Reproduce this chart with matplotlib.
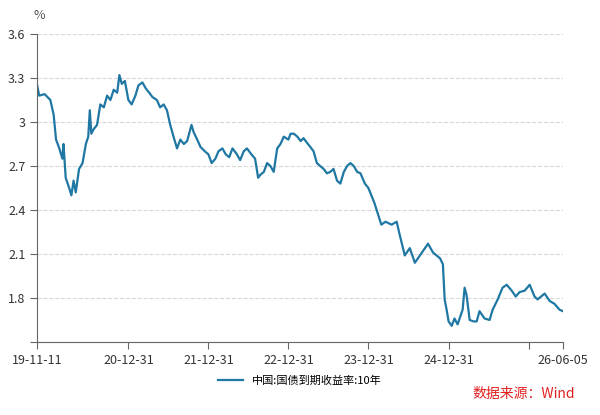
import numpy as np
import pandas as pd
import matplotlib.pyplot as plt
import matplotlib.dates as mdates

plt.rcParams['font.family'] = ['Noto Sans CJK SC', 'DejaVu Sans']

# 中国10年期国债到期收益率
dates = [
    '2019-11-11', '2019-11-20', '2019-12-15', '2020-01-10', '2020-01-25', '2020-02-05', '2020-02-20',
    '2020-03-05', '2020-03-10', '2020-03-20', '2020-04-05', '2020-04-15', '2020-04-25', '2020-05-05',
    '2020-05-20', '2020-06-05', '2020-06-20', '2020-07-01', '2020-07-08', '2020-07-15', '2020-07-25',
    '2020-08-10', '2020-08-25', '2020-09-10', '2020-09-25', '2020-10-10', '2020-10-25', '2020-11-10',
    '2020-11-20', '2020-12-01', '2020-12-15', '2020-12-31', '2021-01-15', '2021-02-01', '2021-02-15',
    '2021-03-05', '2021-03-20', '2021-04-05', '2021-04-20', '2021-05-10', '2021-05-25', '2021-06-10',
    '2021-06-25', '2021-07-10', '2021-07-25', '2021-08-10', '2021-08-25', '2021-09-10', '2021-09-25',
    '2021-10-15', '2021-10-25', '2021-11-10', '2021-11-25', '2021-12-15', '2021-12-31', '2022-01-15',
    '2022-02-01', '2022-02-15', '2022-03-05', '2022-03-20', '2022-04-05', '2022-04-20', '2022-05-10',
    '2022-05-25', '2022-06-10', '2022-06-25', '2022-07-15', '2022-08-01', '2022-08-15', '2022-08-25',
    '2022-09-10', '2022-09-25', '2022-10-10', '2022-10-25', '2022-11-10', '2022-11-25', '2022-12-10',
    '2022-12-31', '2023-01-10', '2023-01-25', '2023-02-10', '2023-02-25', '2023-03-10', '2023-03-25',
    '2023-04-10', '2023-04-25', '2023-05-10', '2023-05-25', '2023-06-10', '2023-06-25', '2023-07-10',
    '2023-07-25', '2023-08-10', '2023-08-25', '2023-09-10', '2023-09-25', '2023-10-10', '2023-10-25',
    '2023-11-10', '2023-11-25', '2023-12-15', '2023-12-31', '2024-01-27', '2024-02-28', '2024-03-18',
    '2024-04-15', '2024-05-08', '2024-05-22', '2024-06-14', '2024-07-07', '2024-07-30', '2024-09-28',
    '2024-10-21', '2024-11-22', '2024-12-05', '2024-12-13', '2024-12-22', '2024-12-31', '2025-01-14',
    '2025-01-27', '2025-02-10', '2025-03-05', '2025-03-14', '2025-03-23', '2025-04-06', '2025-04-24',
    '2025-05-08', '2025-05-21', '2025-06-13', '2025-07-06', '2025-07-20', '2025-08-12', '2025-09-03',
    '2025-09-22', '2025-10-15', '2025-11-02', '2025-11-20', '2025-12-13', '2026-01-05', '2026-01-27',
    '2026-02-10', '2026-03-14', '2026-04-06', '2026-04-28', '2026-05-21', '2026-06-05',
]
yields = [
    3.25, 3.18, 3.19, 3.15, 3.05, 2.88, 2.82,
    2.75, 2.85, 2.62, 2.55, 2.50, 2.60, 2.52,
    2.68, 2.72, 2.85, 2.90, 3.08, 2.92, 2.95,
    2.98, 3.12, 3.10, 3.18, 3.15, 3.22, 3.20,
    3.32, 3.26, 3.28, 3.15, 3.12, 3.18, 3.25,
    3.27, 3.23, 3.20, 3.17, 3.15, 3.10, 3.12,
    3.08, 2.98, 2.90, 2.82, 2.88, 2.85, 2.87,
    2.98, 2.93, 2.88, 2.83, 2.80, 2.78, 2.72,
    2.75, 2.80, 2.82, 2.78, 2.76, 2.82, 2.78,
    2.74, 2.80, 2.82, 2.78, 2.75, 2.62, 2.64,
    2.66, 2.72, 2.70, 2.66, 2.82, 2.85, 2.90,
    2.88, 2.92, 2.92, 2.90, 2.87, 2.89, 2.86,
    2.83, 2.80, 2.72, 2.70, 2.68, 2.65, 2.66,
    2.68, 2.60, 2.58, 2.66, 2.70, 2.72, 2.70,
    2.66, 2.65, 2.58, 2.55, 2.45, 2.30, 2.32,
    2.30, 2.32, 2.23, 2.09, 2.14, 2.04, 2.17,
    2.11, 2.07, 2.03, 1.79, 1.72, 1.64, 1.61,
    1.66, 1.62, 1.72, 1.87, 1.82, 1.65, 1.64,
    1.64, 1.71, 1.66, 1.65, 1.72, 1.79, 1.87,
    1.89, 1.85, 1.81, 1.84, 1.85, 1.89, 1.81,
    1.79, 1.83, 1.78, 1.76, 1.72, 1.71,
]
tick_dates = ['2019-11-11', '2020-12-31', '2021-12-31', '2022-12-31', '2023-12-31',
              '2024-12-31', '2025-12-31', '2026-06-05']
tick_labels = ['19-11-11', '20-12-31', '21-12-31', '22-12-31', '23-12-31', '24-12-31', '', '26-06-05']
y_ticks = [1.5, 1.8, 2.1, 2.4, 2.7, 3.0, 3.3, 3.6]
y_labels = ['', '1.8', '2.1', '2.4', '2.7', '3', '3.3', '3.6']

x = pd.to_datetime(dates)
fig = plt.figure(figsize=(6, 4.15), dpi=100)
ax = fig.add_axes([0.062, 0.176, 0.876, 0.742])
ax.plot(x, yields, color='#1f77a3', linewidth=1.6, label='中国:国债到期收益率:10年')

ax.set_xlim(pd.Timestamp(dates[0]), pd.Timestamp(dates[-1]))
ax.set_ylim(1.5, 3.6)
ax.set_xticks(pd.to_datetime(tick_dates))
ax.set_xticklabels(tick_labels)
ax.set_yticks(y_ticks)
ax.set_yticklabels(y_labels)
ax.tick_params(colors='#333333', labelsize=9, length=5, color='#666666')
ax.grid(axis='y', color='#d9d9d9', linestyle='--', linewidth=0.8)
for s in ['top', 'right']:
    ax.spines[s].set_visible(False)
for s in ['left', 'bottom']:
    ax.spines[s].set_color('#666666')

fig.text(0.055, 0.955, '%', fontsize=9, color='#555555')
ax.legend(loc='upper center', bbox_to_anchor=(0.5, -0.075), frameon=False, fontsize=8,
          handlelength=2.2)
fig.text(0.958, 0.04, '数据来源：Wind', color='#e02020', fontsize=10, ha='right')

fig.savefig('out.png', dpi=100)
